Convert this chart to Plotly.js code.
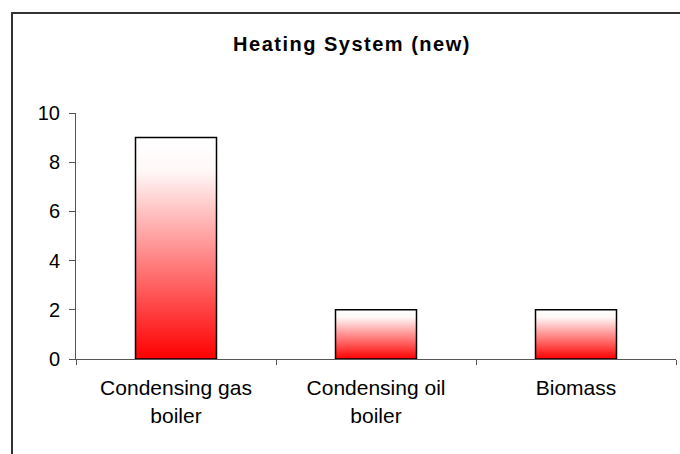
<!DOCTYPE html>
<html>
<head>
<meta charset="utf-8">
<script src="https://cdn.plot.ly/plotly-3.0.1.min.js"></script>
<style>
html,body{margin:0;padding:0;background:#fff;}
#chart{width:680px;height:454px;}
</style>
</head>
<body>
<div id="chart"></div>
<script>
const categories = ["Condensing gas<br>boiler", "Condensing oil<br>boiler", "Biomass"];
const values = [9, 2, 2];
const yTickVals = [0, 2, 4, 6, 8, 10];
const chartTitle = "Heating System (new)";

const W = 680, H = 454;
const L = 76, R = 4, T = 113, B = 95;
const pw = W - L - R, ph = H - T - B;
function px(x){ return (x - L) / pw; }
function py(y){ return (H - B - y) / ph; }

const data = [{
  type: 'bar',
  x: categories,
  y: values,
  width: 0.405,
  marker: { color: '#ff4040', line: { color: '#000', width: 1.5 } },
  hoverinfo: 'none'
}];

const layout = {
  width: W, height: H,
  margin: { l: L, r: R, t: T, b: B, pad: 0 },
  paper_bgcolor: '#fff',
  plot_bgcolor: '#fff',
  showlegend: false,
  font: { family: '"Liberation Sans", Arial, sans-serif', color: '#000', size: 20 },
  title: {
    text: '<b>' + chartTitle + '</b>',
    font: { size: 20, color: '#000' },
    xref: 'container', x: 352 / W, xanchor: 'center',
    yref: 'container', y: (H - 44) / H, yanchor: 'middle'
  },
  xaxis: {
    type: 'category',
    range: [-0.5, 2.5],
    showline: true, linecolor: '#555', linewidth: 1,
    ticks: 'outside', tickson: 'boundaries', ticklen: 5, tickcolor: '#555',
    showgrid: false, zeroline: false,
    tickfont: { size: 21 },
    ticklabelstandoff: 10
  },
  yaxis: {
    range: [0, 10],
    tickvals: yTickVals,
    showline: true, linecolor: '#555', linewidth: 1,
    ticks: 'outside', ticklen: 6, tickcolor: '#555',
    showgrid: false, zeroline: false,
    tickfont: { size: 20 },
    ticklabelstandoff: 5
  },
  shapes: [{
    type: 'rect', xref: 'paper', yref: 'paper',
    x0: px(12), x1: px(W + 10), y0: py(H + 10), y1: py(13),
    line: { color: '#333', width: 2 }, fillcolor: 'rgba(0,0,0,0)'
  }]
};

Plotly.newPlot('chart', data, layout, { staticPlot: true }).then(function(gd){
  const svg = gd.querySelector('svg.main-svg');
  const NS = 'http://www.w3.org/2000/svg';
  let defs = svg.querySelector('defs');
  if (!defs) { defs = document.createElementNS(NS, 'defs'); svg.insertBefore(defs, svg.firstChild); }
  const grad = document.createElementNS(NS, 'linearGradient');
  grad.setAttribute('id', 'redgrad');
  grad.setAttribute('x1', '0'); grad.setAttribute('y1', '0');
  grad.setAttribute('x2', '0'); grad.setAttribute('y2', '1');
  [['0', '#ffffff'], ['0.15', '#fff8f8'], ['1', '#ff0000']].forEach(function(s){
    const st = document.createElementNS(NS, 'stop');
    st.setAttribute('offset', s[0]);
    st.setAttribute('stop-color', s[1]);
    grad.appendChild(st);
  });
  defs.appendChild(grad);
  gd.querySelectorAll('.bars .point path').forEach(function(p){
    p.style.fill = 'url(#redgrad)';
    p.style.fillOpacity = 1;
  });
  const t = gd.querySelector('.gtitle');
  if (t) t.style.letterSpacing = '1.5px';
});
</script>
</body>
</html>
